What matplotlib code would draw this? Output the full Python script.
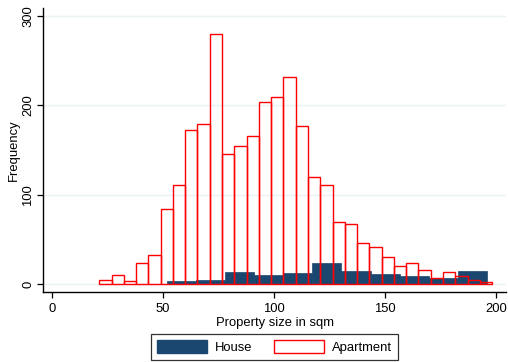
import numpy as np
import matplotlib
matplotlib.use("Agg")
import matplotlib.pyplot as plt
from matplotlib.patches import Patch

plt.rcParams['font.family'] = ['Liberation Sans', 'DejaVu Sans']

# frequency counts per bin, read by property type
apt_start = 21.3
apt_width = 5.53
apt_counts = [5, 10, 3, 23, 32, 84, 111, 172, 179, 280, 145, 154, 166, 204, 209,
              232, 177, 120, 111, 69, 67, 46, 41, 30, 20, 23, 16, 7, 13, 9, 4, 2]

house_start = 51.8
house_width = 13.1
house_counts = [3, 4, 13, 10, 12, 24, 15, 11, 9, 7, 15]

navy = "#1a476f"
grid_col = "#eaf2f3"
fs = 9.4

apt_left = apt_start + apt_width * np.arange(len(apt_counts))
house_left = house_start + house_width * np.arange(len(house_counts))

fig = plt.figure(figsize=(5.08, 3.62), dpi=100)
ax = fig.add_axes([43 / 508, 1 - 292.3 / 362, 463 / 508, 284 / 362])

ax.bar(house_left, house_counts, width=house_width, align='edge',
       color=navy, edgecolor=navy, linewidth=0.5, zorder=2)
ax.bar(apt_left, apt_counts, width=apt_width, align='edge',
       fill=False, edgecolor='red', linewidth=1.0, zorder=3)

ax.set_xlim(-4.05, 204.5)
ax.set_ylim(-9.3, 308.7)
ax.set_xticks([0, 50, 100, 150, 200])
ax.set_yticks([0, 100, 200, 300])
ax.yaxis.grid(True, color=grid_col, linewidth=1.0, zorder=0)
ax.set_axisbelow(True)

for side in ['top', 'right']:
    ax.spines[side].set_visible(False)
for side in ['left', 'bottom']:
    ax.spines[side].set_linewidth(1.0)
    ax.spines[side].set_color('black')

ax.tick_params(axis='both', direction='out', length=4, width=0.9,
               labelsize=fs, colors='black')
ax.tick_params(axis='x', pad=3.5)
ax.tick_params(axis='y', pad=2.2, labelrotation=90)
for lbl in ax.get_yticklabels():
    lbl.set_va('center')

ax.set_xlabel("Property size in sqm", fontsize=fs, labelpad=1.5)
ax.set_ylabel("Frequency", fontsize=fs, labelpad=1.5)

handles = [Patch(facecolor=navy, edgecolor=navy, label='House'),
           Patch(facecolor='white', edgecolor='red', linewidth=1.0, label='Apartment')]
leg = fig.legend(handles=handles, loc='center', bbox_to_anchor=(0.540, 0.0414),
                 ncol=2, fontsize=fs, frameon=True, fancybox=False,
                 handlelength=3.8, handleheight=1.1, handletextpad=0.6,
                 columnspacing=1.7, borderpad=0.5, borderaxespad=0)
leg.get_frame().set_edgecolor('black')
leg.get_frame().set_linewidth(0.9)

fig.savefig("out.png", dpi=100, facecolor='white')
